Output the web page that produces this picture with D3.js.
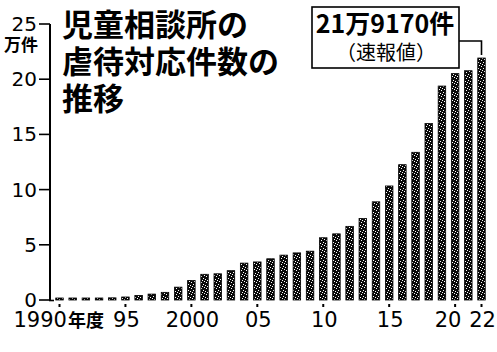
<!DOCTYPE html>
<html>
<head>
<meta charset="utf-8">
<script src="https://cdn.jsdelivr.net/npm/d3@7"></script>
<style>
body { margin: 0; background: #fff; }
svg { display: block; }
</style>
</head>
<body>
<svg id="mainSVG" width="497" height="352"></svg>
<script>
// 年度ごとの件数
var years = d3.range(1990, 2023);
var counts = [1101, 1171, 1372, 1611, 1961, 2722, 4102, 5352, 6932, 11631,
              17725, 23274, 23738, 26569, 33408, 34472, 37323, 40639, 42664, 44211,
              56384, 59919, 66701, 73802, 88931, 103286, 122575, 133778, 159838, 193780,
              205044, 207660, 219170];
var yTicks = [0, 5, 10, 15, 20, 25];
var xTickYears = [1990, 1995, 2000, 2005, 2010, 2015, 2020, 2022];
var xTickLabels = ["1990", "95", "2000", "05", "10", "15", "20", "22"];
var titleLines = ["児童相談所の", "虐待対応件数の", "推移"];
var noteLines = ["21万9170件", "（速報値）"];

var svg = d3.select("#mainSVG");
var cjk = "'Noto Sans CJK JP', sans-serif";
var num = "'DejaVu Sans', sans-serif";

// halftone-ish texture for the bars
var defs = svg.append("defs");
var pat = defs.append("pattern")
    .attr("id", "tex")
    .attr("width", 5)
    .attr("height", 6)
    .attr("patternUnits", "userSpaceOnUse");
pat.append("rect").attr("width", 5).attr("height", 6).attr("fill", "#0a0a0a");
[[1, 0], [3, 2], [2, 4], [0, 3], [4, 5]].forEach(function(p) {
  pat.append("rect").attr("x", p[0]).attr("y", p[1])
     .attr("width", 1).attr("height", 1).attr("fill", "#fff");
});

var x = d3.scaleLinear().domain([1990, 2022]).range([59.5, 481.5]);
var y = d3.scaleLinear().domain([0, 25]).range([300, 24]);
var barW = 7.5;

// bars
svg.append("g").selectAll("rect")
    .data(years)
    .enter().append("rect")
    .attr("x", function(d) { return x(d) - barW / 2; })
    .attr("width", barW)
    .attr("y", function(d, i) { return Math.min(y(counts[i] / 10000), y(0) - 2); })
    .attr("height", function(d, i) { return Math.max(y(0) - y(counts[i] / 10000), 2); })
    .attr("fill", "url(#tex)")
    .attr("stroke", "#000")
    .attr("stroke-width", 0.8);

// y axis
var axisG = svg.append("g");
axisG.append("line")
    .attr("x1", 50).attr("x2", 50)
    .attr("y1", y(25)).attr("y2", y(0) + 1)
    .attr("stroke", "#000").attr("stroke-width", 2);
axisG.selectAll(".tk")
    .data(yTicks)
    .enter().append("line")
    .attr("x1", 39).attr("x2", 50)
    .attr("y1", function(d) { return y(d); })
    .attr("y2", function(d) { return y(d); })
    .attr("stroke", "#000").attr("stroke-width", 1.6);
axisG.append("line")
    .attr("x1", 49).attr("x2", 54)
    .attr("y1", y(0) + 0.5).attr("y2", y(0) + 0.5)
    .attr("stroke", "#000").attr("stroke-width", 1.6);
var ylab = axisG.selectAll(".lb")
    .data(yTicks)
    .enter().append("text")
    .attr("x", 37)
    .attr("y", function(d) { return y(d) + 7; })
    .attr("text-anchor", "end")
    .attr("font-family", num)
    .attr("font-size", 20)
    .attr("fill", "#000")
    .text(function(d) { return d; });
// unit sits under the top tick label
ylab.filter(function(d) { return d == 25; })
    .append("tspan")
    .attr("x", 38).attr("dy", 20)
    .attr("font-family", cjk)
    .attr("font-size", 17)
    .attr("font-weight", "bold")
    .text("万件");

// x ticks and labels
svg.append("g").selectAll("rect")
    .data(xTickYears)
    .enter().append("rect")
    .attr("x", function(d) { return x(d) - 1; })
    .attr("y", 304)
    .attr("width", 2).attr("height", 3)
    .attr("fill", "#000");

var xlab = svg.append("g").selectAll("text")
    .data(xTickYears)
    .enter().append("text")
    .attr("x", function(d, i) {
      if (i == 0) return x(d) - 46;
      if (d == 2020) return x(d) - 7;
      return x(d) + 1;
    })
    .attr("y", 327)
    .attr("text-anchor", function(d, i) { return i == 0 ? "start" : "middle"; })
    .attr("font-family", num)
    .attr("font-size", 21)
    .attr("fill", "#000")
    .text(function(d, i) { return xTickLabels[i]; });
xlab.filter(function(d, i) { return i == 0; })
    .append("tspan")
    .attr("dx", 1)
    .attr("font-family", cjk)
    .attr("font-size", 18)
    .attr("font-weight", "bold")
    .text("年度");

// title
svg.append("text")
    .attr("font-family", cjk)
    .attr("font-size", 31)
    .attr("font-weight", "bold")
    .attr("fill", "#000")
    .selectAll("tspan")
    .data(titleLines)
    .enter().append("tspan")
    .attr("x", 62)
    .attr("y", function(d, i) { return 36 + i * 37; })
    .text(function(d) { return d; });

// callout for latest value
svg.append("rect")
    .attr("x", 312).attr("y", 7)
    .attr("width", 147).attr("height", 61)
    .attr("fill", "#fff")
    .attr("stroke", "#000").attr("stroke-width", 1.6);
svg.append("path")
    .attr("d", "M459,41H" + x(2022) + "V" + (y(counts[32] / 10000) - 3))
    .attr("fill", "none")
    .attr("stroke", "#000").attr("stroke-width", 1.6);
svg.append("text")
    .attr("x", 385).attr("y", 33)
    .attr("text-anchor", "middle")
    .attr("font-family", cjk)
    .attr("font-size", 25)
    .attr("font-weight", "bold")
    .text(noteLines[0]);
svg.append("text")
    .attr("x", 386).attr("y", 60)
    .attr("text-anchor", "middle")
    .attr("font-family", cjk)
    .attr("font-size", 20)
    .text(noteLines[1]);
</script>
</body>
</html>
